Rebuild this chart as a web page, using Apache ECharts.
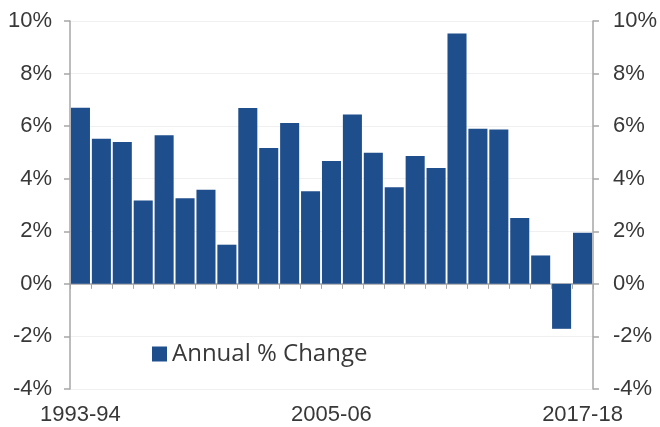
<!DOCTYPE html>
<html><head><meta charset="utf-8">
<script src="https://cdn.jsdelivr.net/npm/echarts@6/dist/echarts.min.js"></script>
<style>html,body{margin:0;padding:0;background:#fff}#c{width:660px;height:427px}</style>
</head><body><div id="c"></div>
<script>
var categories = ["1993-94","1994-95","1995-96","1996-97","1997-98","1998-99","1999-00","2000-01","2001-02","2002-03","2003-04","2004-05","2005-06","2006-07","2007-08","2008-09","2009-10","2010-11","2011-12","2012-13","2013-14","2014-15","2015-16","2016-17","2017-18"];
var annualChange = [6.70,5.52,5.40,3.17,5.65,3.26,3.58,1.49,6.69,5.17,6.12,3.52,4.67,6.44,4.99,3.68,4.86,4.41,9.52,5.90,5.87,2.51,1.08,-1.71,1.94];
var seriesName = "Annual % Change";
var yMin = -4, yMax = 10, yStep = 2;

var font = "Liberation Sans";
var txt = "#383838";
var chart = echarts.init(document.getElementById('c'), null, {renderer:'canvas'});
function yAxis(pos, margin, split) {
  return {
    type:'value', position:pos, min:yMin, max:yMax, interval:yStep,
    axisLine:{show:true, lineStyle:{color:'#a6a6a6', width:1.5}},
    axisTick:{show:true, length:6, lineStyle:{color:'#a6a6a6', width:1.5}},
    axisLabel:{formatter:'{value}%', color:txt, fontSize:22, fontFamily:font, margin:margin},
    splitLine:{show:split, lineStyle:{color:'#f0f0f0', width:1}}
  };
}
chart.setOption({
  animation:false,
  grid:{left:70, right:64, top:21, bottom:38, containLabel:false},
  legend:{
    data:[seriesName], left:147, top:337, itemWidth:15, itemHeight:15, itemGap:10,
    icon:'rect',
    textStyle:{color:txt, fontSize:24, fontFamily:"Open Sans"}
  },
  xAxis:[
    {type:'category', data:categories, position:'bottom',
     axisLine:{show:false, onZero:false}, axisTick:{show:false},
     axisLabel:{interval:11, color:txt, fontSize:22, fontFamily:font, margin:15}},
    {type:'category', data:categories, position:'top',
     axisLine:{show:true, onZero:true, lineStyle:{color:'#a6a6a6', width:1.5}},
     axisTick:{show:true, inside:true, length:5, interval:0, lineStyle:{color:'#a6a6a6', width:1}},
     axisLabel:{show:false}}
  ],
  yAxis:[ yAxis('left', 18, true), yAxis('right', 20, false) ],
  series:[{
    name:seriesName, type:'bar', data:annualChange, xAxisIndex:0, yAxisIndex:0,
    barCategoryGap:'9%',
    itemStyle:{color:'#1f4e8c'}
  }]
});
</script></body></html>
